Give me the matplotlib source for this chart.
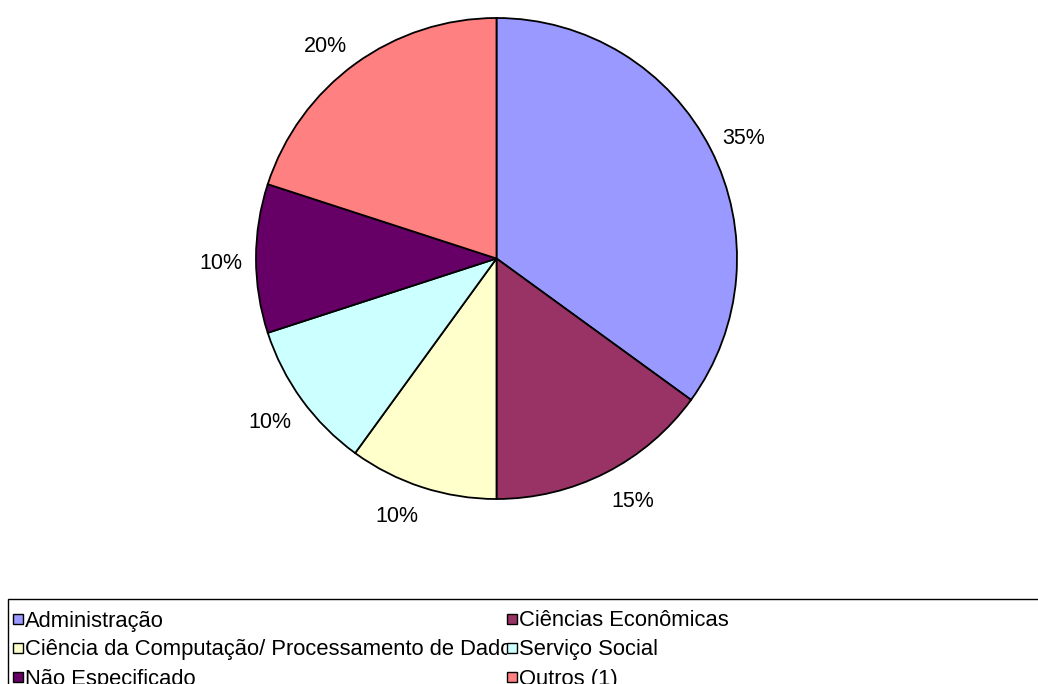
import matplotlib
matplotlib.use("Agg")
import numpy as np
import matplotlib.pyplot as plt
from matplotlib.patches import Rectangle
from matplotlib.transforms import Bbox, offset_copy

plt.rcParams['font.family'] = ['Liberation Sans', 'DejaVu Sans']

categories = [
    "Administração",
    "Ciências Econômicas",
    "Ciência da Computação/ Processamento de Dados",
    "Serviço Social",
    "Não Especificado",
    "Outros (1)",
]
shares = [35, 15, 10, 10, 10, 20]
colors = ["#9999FF", "#993366", "#FFFFCC", "#CCFFFF", "#660066", "#FF8080"]

W, H = 1038, 684
DPI = 100
fig = plt.figure(figsize=(W / DPI, H / DPI), dpi=DPI)


def fx(x):
    return x / W


def fy(y):
    return 1 - y / H


# pie area
cx, cy, r = 496.5, 258.5, 240.5
ax = fig.add_axes([fx(cx - r), fy(cy + r), 2 * r / W, 2 * r / H])
wedges, _ = ax.pie(
    shares, colors=colors, startangle=90, counterclock=False,
    wedgeprops=dict(edgecolor="black", linewidth=1.3))
ax.set_xlim(-1, 1)
ax.set_ylim(-1, 1)
ax.set_aspect("equal")
ax.axis("off")

# percentage labels: the corner of each label nearest the pie sits just outside the rim
label_fs = 15.5
cap_px = 0.716 * label_fs * DPI / 72
label_r = 1.055
total = sum(shares)
for w, v in zip(wedges, shares):
    mid = np.deg2rad((w.theta1 + w.theta2) / 2)
    c, s = np.cos(mid), np.sin(mid)
    sx = 0 if abs(c) < 0.1 else np.sign(c)
    sy = 0 if abs(s) < 0.1 else np.sign(s)
    ha = {1: "left", -1: "right", 0: "center"}[int(sx)]
    dy = -cap_px * (1 - sy) / 2 - 2.5 + 5 * s
    tr = offset_copy(ax.transData, fig=fig, x=0, y=dy, units="dots")
    ax.text(label_r * c, label_r * s, f"{100 * v / total:.0f}%", transform=tr,
            ha=ha, va="baseline", fontsize=label_fs, color="black", clip_on=False)

# legend frame (runs off the right and bottom edges)
fig.patches.append(Rectangle((fx(7.5), fy(H + 20)), fx(W + 20) - fx(7.5), fy(599) - fy(H + 20),
                             transform=fig.transFigure, facecolor="white",
                             edgecolor="black", linewidth=1.0, zorder=0))

col_x = [12.5, 506.5]
row_base = [626.5, 655.5, 684.5]
box = 10
for i, (name, c) in enumerate(zip(categories, colors)):
    col, row = i % 2, i // 2
    x0, yb = col_x[col], row_base[row]
    t = fig.text(fx(x0 + box + 2.5), fy(yb), name, fontsize=15.8, va="baseline", ha="left")
    if col == 0:
        t.set_clip_box(Bbox([[0, 0], [col_x[1], H]]))
        t.set_clip_on(True)
    ym = yb - 7.5
    fig.patches.append(Rectangle((fx(x0), fy(ym + box / 2)), box / W, box / H,
                                 transform=fig.transFigure, facecolor=c,
                                 edgecolor="black", linewidth=1.0, zorder=3))

fig.savefig("out.png", dpi=DPI)
